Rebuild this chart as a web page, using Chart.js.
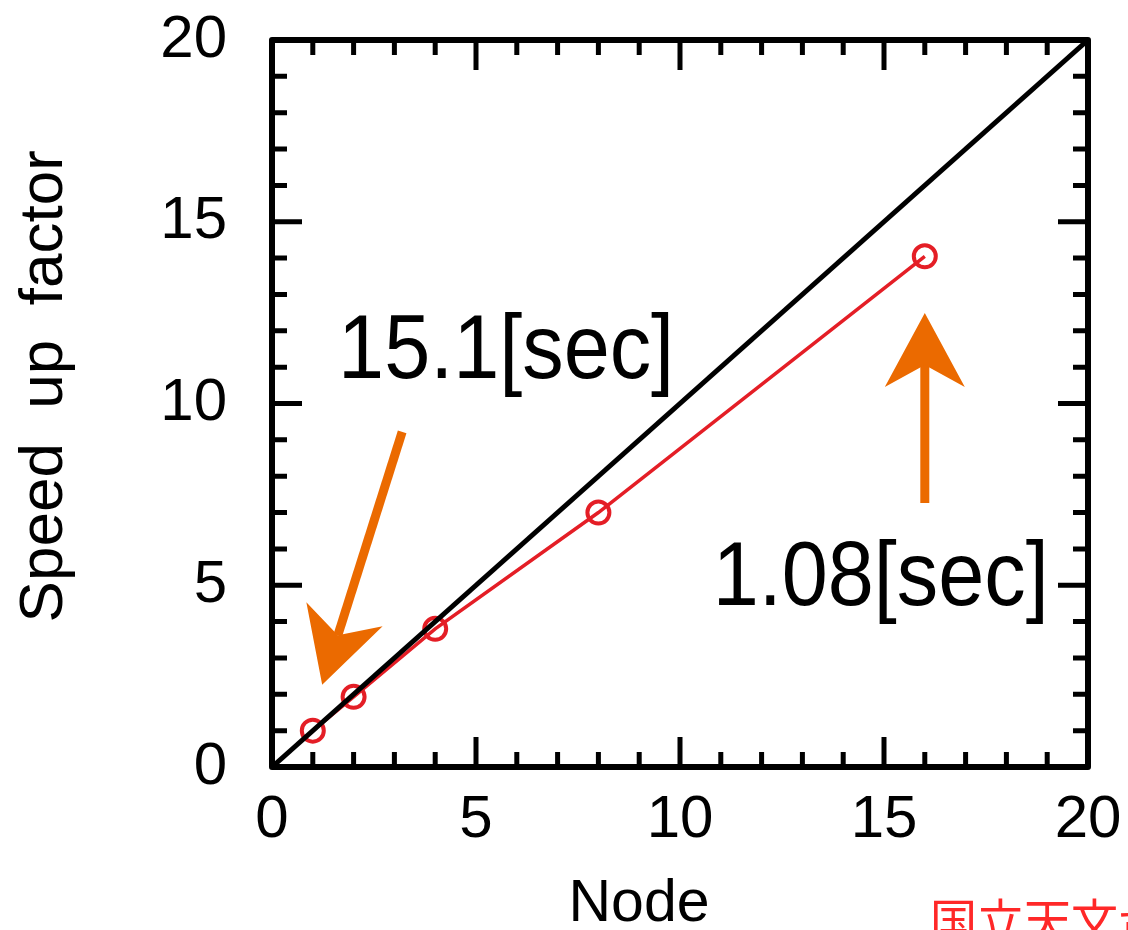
<!DOCTYPE html>
<html lang="ja">
<head>
<meta charset="UTF-8">
<title>Speed up factor</title>
<script src="https://cdn.jsdelivr.net/npm/chart.js"></script>
<style>
  body { margin: 0; background: #fff; }
  #wrap { width: 1128px; height: 930px; }
</style>
</head>
<body>
<div id="wrap"><canvas id="speedup" width="1128" height="930"></canvas></div>
<script>
// measured speed up vs node count
const nodes = [1, 2, 4, 8, 16];
const speedup = [1.0, 1.93, 3.8, 7.0, 14.05];
// ideal (linear) speed up
const idealX = [0, 20];
const idealY = [0, 20];
const xTicks = [0, 5, 10, 15, 20];
const yTicks = [0, 5, 10, 15, 20];
// annotation texts and arrows, in data units
const noteTexts = ['15.1[sec]', '1.08[sec]'];
const noteAt = [[1.62, 10.7], [10.8, 4.46]];
const arrowTail = [[3.19, 9.22], [16.0, 7.26]];
const arrowTip = [[1.23, 2.26], [16.0, 12.49]];

const FONT = 'Liberation Sans';
const ORANGE = '#eb6a00';
const RED = '#e41e26';

const framePlugin = {
    id: 'frame',
    afterDraw(chart) {
        const ctx = chart.ctx;
        const xs = chart.scales.x, ys = chart.scales.y;
        const a = chart.chartArea;
        ctx.save();
        ctx.strokeStyle = '#000';
        ctx.lineWidth = 5;
        ctx.lineCap = 'butt';
        // inward ticks on all four sides
        for (let v = 1; v < 20; v++) {
            const len = v % 5 === 0 ? 30 : 15;
            const px = xs.getPixelForValue(v);
            const py = ys.getPixelForValue(v);
            ctx.beginPath();
            ctx.moveTo(px, a.bottom); ctx.lineTo(px, a.bottom - len);
            ctx.moveTo(px, a.top); ctx.lineTo(px, a.top + len);
            ctx.moveTo(a.left, py); ctx.lineTo(a.left + len, py);
            ctx.moveTo(a.right, py); ctx.lineTo(a.right - len, py);
            ctx.stroke();
        }
        ctx.lineWidth = 6;
        ctx.lineJoin = 'round';
        ctx.strokeRect(a.left, a.top, a.right - a.left, a.bottom - a.top);

        // arrows
        for (let i = 0; i < arrowTail.length; i++) {
            const tx = xs.getPixelForValue(arrowTail[i][0]), ty = ys.getPixelForValue(arrowTail[i][1]);
            const hx = xs.getPixelForValue(arrowTip[i][0]), hy = ys.getPixelForValue(arrowTip[i][1]);
            const d = Math.hypot(hx - tx, hy - ty);
            const ux = (hx - tx) / d, uy = (hy - ty) / d;
            const nx = -uy, ny = ux;
            const len = 74, back = 52, half = 40;
            ctx.strokeStyle = ORANGE;
            ctx.fillStyle = ORANGE;
            ctx.lineWidth = 9;
            ctx.beginPath();
            ctx.moveTo(tx, ty);
            ctx.lineTo(hx - ux * back, hy - uy * back);
            ctx.stroke();
            ctx.beginPath();
            ctx.moveTo(hx, hy);
            ctx.lineTo(hx - ux * len + nx * half, hy - uy * len + ny * half);
            ctx.lineTo(hx - ux * back, hy - uy * back);
            ctx.lineTo(hx - ux * len - nx * half, hy - uy * len - ny * half);
            ctx.closePath();
            ctx.fill();
        }

        // annotation texts
        ctx.fillStyle = '#000';
        ctx.font = '90px "' + FONT + '"';
        ctx.textAlign = 'left';
        ctx.textBaseline = 'alphabetic';
        for (let i = 0; i < noteTexts.length; i++) {
            ctx.save();
            ctx.translate(xs.getPixelForValue(noteAt[i][0]), ys.getPixelForValue(noteAt[i][1]));
            ctx.scale(0.92, 1);
            ctx.fillText(noteTexts[i], 0, 0);
            ctx.restore();
        }

        // credit, cut by the bottom edge as in the source
        ctx.fillStyle = 'rgb(255,40,40)';
        ctx.font = '47px "Noto Sans CJK JP"';
        ctx.textBaseline = 'top';
        ctx.fillText('国立天文台', 930, 897);
        ctx.restore();
    }
};

new Chart(document.getElementById('speedup'), {
    type: 'scatter',
    data: {
        datasets: [
            {
                label: 'ideal',
                data: idealX.map((x, i) => ({x: x, y: idealY[i]})),
                showLine: true,
                borderColor: '#000',
                borderWidth: 5,
                pointRadius: 0,
                order: 0
            },
            {
                label: 'measured',
                data: nodes.map((n, i) => ({x: n, y: speedup[i]})),
                showLine: true,
                borderColor: RED,
                borderWidth: 3.5,
                pointRadius: 11,
                pointBorderWidth: 4,
                pointBackgroundColor: 'rgba(0,0,0,0)',
                pointBorderColor: RED,
                order: 1
            }
        ]
    },
    options: {
        responsive: false,
        animation: false,
        devicePixelRatio: 1,
        layout: { padding: { top: 40, right: 40, left: 0, bottom: 0 } },
        plugins: { legend: { display: false }, tooltip: { enabled: false } },
        scales: {
            x: {
                type: 'linear',
                min: 0, max: 20,
                afterBuildTicks: s => { s.ticks = xTicks.map(v => ({value: v})); },
                afterFit: s => { s.height = 163; s.paddingLeft = 0; s.paddingRight = 0; },
                grid: { display: false, drawTicks: false },
                border: { display: false },
                ticks: { color: '#000', padding: 17, maxRotation: 0, font: { family: FONT, size: 60 } },
                title: {
                    // trailing spaces pull the title left, as in the source figure
                    display: true, text: 'Node     ', color: '#000', padding: 0,
                    font: { family: FONT, size: 59, lineHeight: 0.85 }
                }
            },
            y: {
                type: 'linear',
                min: 0, max: 20,
                afterBuildTicks: s => { s.ticks = yTicks.map(v => ({value: v})); },
                afterFit: s => { s.width = 272; s.paddingTop = 0; s.paddingBottom = 0; },
                grid: { display: false, drawTicks: false },
                border: { display: false },
                ticks: { color: '#000', padding: 45, font: { family: FONT, size: 60 } },
                title: {
                    display: true, text: '  Speed  up  factor', color: '#000',
                    padding: { top: 8, bottom: 0 },
                    font: { family: FONT, size: 62 }
                }
            }
        }
    },
    plugins: [framePlugin]
});
</script>
</body>
</html>
